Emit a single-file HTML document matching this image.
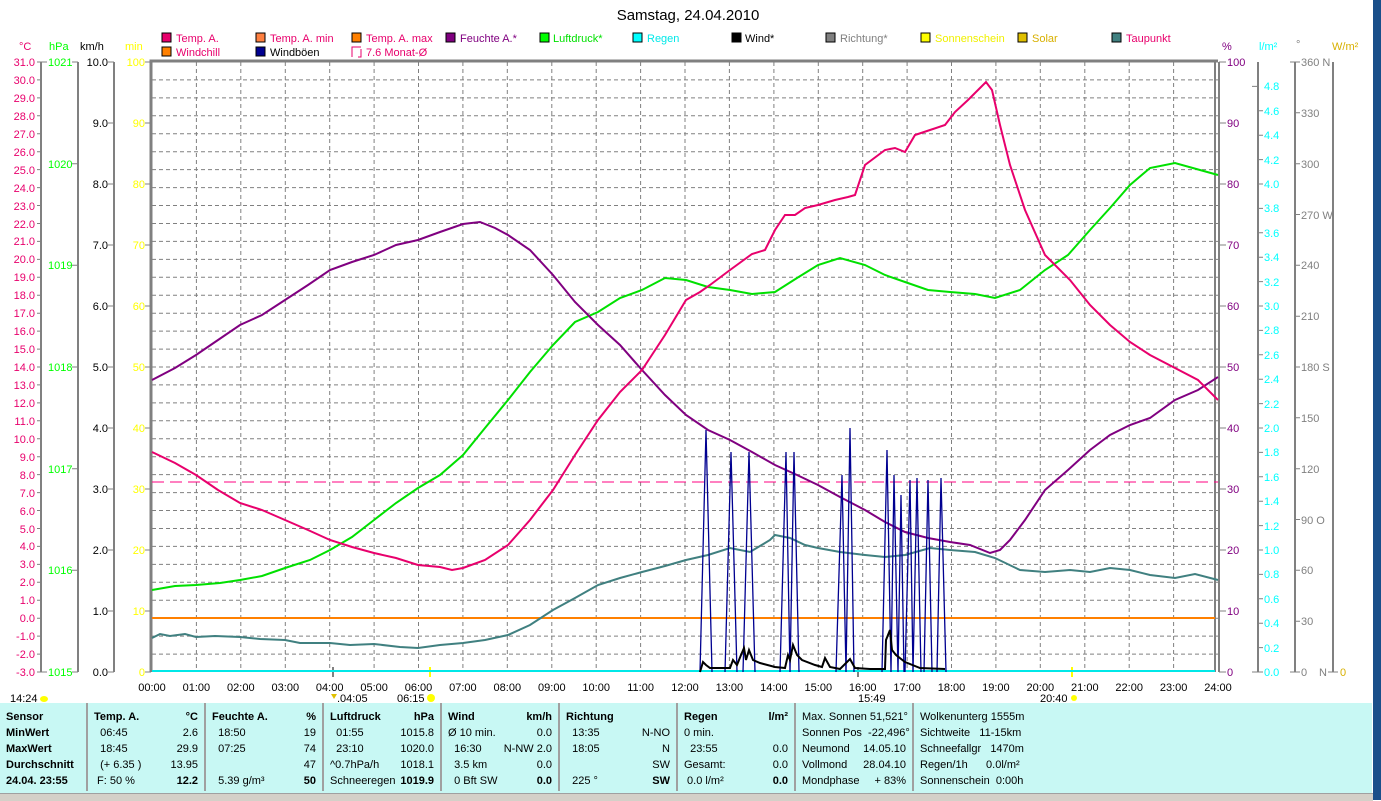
<!DOCTYPE html>
<html><head><meta charset="utf-8"><style>
html,body{margin:0;padding:0;background:#fff;width:1381px;height:800px;overflow:hidden}
svg{display:block;font-family:"Liberation Sans",sans-serif}
#tbl{position:absolute;left:0;top:703px;width:1372px;height:90px;background:#c8f8f4;font-family:"Liberation Sans",sans-serif;font-size:11px;color:#000}
.c{position:absolute;top:0;height:88px;border-right:2px solid #a0a0a0}
.r{position:absolute;left:6px;right:6px;height:16px;white-space:nowrap}
.r span{position:absolute;right:0}
b{font-weight:bold}
</style></head><body>
<svg width="1381" height="800" viewBox="0 0 1381 800">
<text x="688" y="20" font-size="15" text-anchor="middle">Samstag, 24.04.2010</text>
<!-- legend -->
<g font-size="11">
<rect x="162" y="33" width="9" height="9" fill="#e8006c" stroke="#000"/><text x="176" y="42" fill="#e8006c">Temp. A.</text>
<rect x="256" y="33" width="9" height="9" fill="#ff8040" stroke="#000"/><text x="270" y="42" fill="#e8006c">Temp. A. min</text>
<rect x="352" y="33" width="9" height="9" fill="#ff8000" stroke="#000"/><text x="366" y="42" fill="#e8006c">Temp. A. max</text>
<rect x="446" y="33" width="9" height="9" fill="#800080" stroke="#000"/><text x="460" y="42" fill="#800080">Feuchte A.*</text>
<rect x="540" y="33" width="9" height="9" fill="#00ff00" stroke="#000"/><text x="553" y="42" fill="#00e000">Luftdruck*</text>
<rect x="633" y="33" width="9" height="9" fill="#00ffff" stroke="#000"/><text x="647" y="42" fill="#00e8e8">Regen</text>
<rect x="732" y="33" width="9" height="9" fill="#000" stroke="#000"/><text x="745" y="42" fill="#000">Wind*</text>
<rect x="826" y="33" width="9" height="9" fill="#808080" stroke="#000"/><text x="840" y="42" fill="#808080">Richtung*</text>
<rect x="921" y="33" width="9" height="9" fill="#ffff00" stroke="#000"/><text x="935" y="42" fill="#f0f000">Sonnenschein</text>
<rect x="1018" y="33" width="9" height="9" fill="#e0c000" stroke="#000"/><text x="1032" y="42" fill="#d8b000">Solar</text>
<rect x="1112" y="33" width="9" height="9" fill="#408080" stroke="#000"/><text x="1126" y="42" fill="#e8006c">Taupunkt</text>
<rect x="162" y="47" width="9" height="9" fill="#ff8000" stroke="#000"/><text x="176" y="56" fill="#e8006c">Windchill</text>
<rect x="256" y="47" width="9" height="9" fill="#000090" stroke="#000"/><text x="270" y="56" fill="#000">Windböen</text>
<path d="M352 57V47h9M361 49v8h-3" fill="none" stroke="#e8006c"/><text x="366" y="56" fill="#e8006c">7.6 Monat-Ø</text>
</g>
<!-- axis headers -->
<g font-size="11">
<text x="19" y="50" fill="#e8006c">°C</text><text x="49" y="50" fill="#00ff00">hPa</text><text x="80" y="50" fill="#000">km/h</text><text x="125" y="50" fill="#ffff00">min</text>
<text x="1222" y="50" fill="#800080">%</text><text x="1259" y="50" fill="#00ffff">l/m²</text><text x="1296" y="48" fill="#808080">°</text><text x="1332" y="50" fill="#d8b000">W/m²</text>
</g>
<!-- grid -->
<g stroke="#808080" stroke-dasharray="4 3" stroke-width="1">
<path d="M152 79.9H1218M152 97.9H1218M152 115.8H1218M152 133.8H1218M152 151.7H1218M152 169.6H1218M152 187.6H1218M152 205.5H1218M152 223.5H1218M152 241.4H1218M152 259.4H1218M152 277.3H1218M152 295.2H1218M152 313.2H1218M152 331.1H1218M152 349.1H1218M152 367H1218M152 384.9H1218M152 402.9H1218M152 420.8H1218M152 438.8H1218M152 456.7H1218M152 474.6H1218M152 492.6H1218M152 510.5H1218M152 528.5H1218M152 546.4H1218M152 564.4H1218M152 582.3H1218M152 600.2H1218M152 618.2H1218M152 636.1H1218M152 654.1H1218"/>
<path d="M196.4 62V672M240.8 62V672M285.3 62V672M329.7 62V672M374.1 62V672M418.5 62V672M462.9 62V672M507.3 62V672M551.8 62V672M596.2 62V672M640.6 62V672M685 62V672M729.4 62V672M773.9 62V672M818.3 62V672M862.7 62V672M907.1 62V672M951.5 62V672M995.9 62V672M1040.3 62V672M1084.8 62V672M1129.2 62V672M1173.6 62V672"/>
</g>
<!-- frame -->
<g stroke="#808080" fill="none">
<path d="M151 672V61H1218" stroke-width="3"/>
<path d="M1215 62V672M1219 62V672" stroke-width="2"/>
<path d="M41 62V672M78 62V672M114 62V672M1258 62V672M1295 62V672M1333 62V672" stroke-width="2"/>
</g>
<!-- left ticks & labels -->
<g font-size="11" fill="#e8006c" text-anchor="end">
<text x="35" y="66">31.0</text><text x="35" y="84">30.0</text><text x="35" y="102">29.0</text><text x="35" y="120">28.0</text><text x="35" y="138">27.0</text><text x="35" y="156">26.0</text><text x="35" y="174">25.0</text><text x="35" y="192">24.0</text><text x="35" y="210">23.0</text><text x="35" y="228">22.0</text><text x="35" y="245">21.0</text><text x="35" y="263">20.0</text><text x="35" y="281">19.0</text><text x="35" y="299">18.0</text><text x="35" y="317">17.0</text><text x="35" y="335">16.0</text><text x="35" y="353">15.0</text><text x="35" y="371">14.0</text><text x="35" y="389">13.0</text><text x="35" y="407">12.0</text><text x="35" y="425">11.0</text><text x="35" y="443">10.0</text><text x="35" y="461">9.0</text><text x="35" y="479">8.0</text><text x="35" y="497">7.0</text><text x="35" y="515">6.0</text><text x="35" y="533">5.0</text><text x="35" y="550">4.0</text><text x="35" y="568">3.0</text><text x="35" y="586">2.0</text><text x="35" y="604">1.0</text><text x="35" y="622">0.0</text><text x="35" y="640">-1.0</text><text x="35" y="658">-2.0</text><text x="35" y="676">-3.0</text>
</g>
<g stroke="#808080" stroke-width="1">
<path d="M37 62h4M37 79.9h4M37 97.9h4M37 115.8h4M37 133.8h4M37 151.7h4M37 169.6h4M37 187.6h4M37 205.5h4M37 223.5h4M37 241.4h4M37 259.4h4M37 277.3h4M37 295.2h4M37 313.2h4M37 331.1h4M37 349.1h4M37 367h4M37 384.9h4M37 402.9h4M37 420.8h4M37 438.8h4M37 456.7h4M37 474.6h4M37 492.6h4M37 510.5h4M37 528.5h4M37 546.4h4M37 564.4h4M37 582.3h4M37 600.2h4M37 618.2h4M37 636.1h4M37 654.1h4M37 672h4"/>
<path d="M41 62h6M72 62h6M72 163.7h6M72 265.3h6M72 367h6M72 468.7h6M72 570.3h6M72 672h6M41 672h6"/>
<path d="M108 62h6M108 123h6M108 184h6M108 245h6M108 306h6M108 367h6M108 428h6M108 489h6M108 550h6M108 611h6M108 672h6"/>
<path d="M145 62h6M145 123h6M145 184h6M145 245h6M145 306h6M145 367h6M145 428h6M145 489h6M145 550h6M145 611h6M145 672h6"/>
<path d="M1219 62h7M1219 123h7M1219 184h7M1219 245h7M1219 306h7M1219 367h7M1219 428h7M1219 489h7M1219 550h7M1219 611h7M1219 672h7"/>
<path d="M1252 86.4h6M1258 110.8h5M1258 135.2h5M1258 159.6h5M1258 184h5M1258 208.4h5M1258 232.8h5M1258 257.2h5M1258 281.6h5M1258 306h5M1258 330.4h5M1258 354.8h5M1258 379.2h5M1258 403.6h5M1258 428h5M1258 452.4h5M1258 476.8h5M1258 501.2h5M1258 525.6h5M1258 550h5M1258 574.4h5M1258 598.8h5M1258 623.2h5M1258 647.6h5M1252 672h11"/>
<path d="M1290 62h10M1295 112.8h5M1295 163.7h5M1295 214.5h5M1295 265.3h5M1295 316.2h5M1295 367h5M1295 417.8h5M1295 468.7h5M1295 519.5h5M1295 570.3h5M1295 621.2h5M1290 672h10M1328 672h10"/>
</g>
<g font-size="11" fill="#00ff00"><text x="48" y="66">1021</text><text x="48" y="168">1020</text><text x="48" y="269">1019</text><text x="48" y="371">1018</text><text x="48" y="473">1017</text><text x="48" y="574">1016</text><text x="48" y="676">1015</text></g>
<g font-size="11" fill="#000" text-anchor="end"><text x="108" y="66">10.0</text><text x="108" y="127">9.0</text><text x="108" y="188">8.0</text><text x="108" y="249">7.0</text><text x="108" y="310">6.0</text><text x="108" y="371">5.0</text><text x="108" y="432">4.0</text><text x="108" y="493">3.0</text><text x="108" y="554">2.0</text><text x="108" y="615">1.0</text><text x="108" y="676">0.0</text></g>
<g font-size="11" fill="#ffff00" text-anchor="end"><text x="145" y="66">100</text><text x="145" y="127">90</text><text x="145" y="188">80</text><text x="145" y="249">70</text><text x="145" y="310">60</text><text x="145" y="371">50</text><text x="145" y="432">40</text><text x="145" y="493">30</text><text x="145" y="554">20</text><text x="145" y="615">10</text><text x="145" y="676">0</text></g>
<g font-size="11" fill="#800080"><text x="1227" y="66">100</text><text x="1227" y="127">90</text><text x="1227" y="188">80</text><text x="1227" y="249">70</text><text x="1227" y="310">60</text><text x="1227" y="371">50</text><text x="1227" y="432">40</text><text x="1227" y="493">30</text><text x="1227" y="554">20</text><text x="1227" y="615">10</text><text x="1227" y="676">0</text></g>
<g font-size="11" fill="#00ffff"><text x="1264" y="90">4.8</text><text x="1264" y="115">4.6</text><text x="1264" y="139">4.4</text><text x="1264" y="164">4.2</text><text x="1264" y="188">4.0</text><text x="1264" y="212">3.8</text><text x="1264" y="237">3.6</text><text x="1264" y="261">3.4</text><text x="1264" y="286">3.2</text><text x="1264" y="310">3.0</text><text x="1264" y="334">2.8</text><text x="1264" y="359">2.6</text><text x="1264" y="383">2.4</text><text x="1264" y="408">2.2</text><text x="1264" y="432">2.0</text><text x="1264" y="456">1.8</text><text x="1264" y="481">1.6</text><text x="1264" y="505">1.4</text><text x="1264" y="530">1.2</text><text x="1264" y="554">1.0</text><text x="1264" y="578">0.8</text><text x="1264" y="603">0.6</text><text x="1264" y="627">0.4</text><text x="1264" y="652">0.2</text><text x="1264" y="676">0.0</text></g>
<g font-size="11" fill="#808080"><text x="1301" y="66">360 N</text><text x="1301" y="117">330</text><text x="1301" y="168">300</text><text x="1301" y="219">270 W</text><text x="1301" y="269">240</text><text x="1301" y="320">210</text><text x="1301" y="371">180 S</text><text x="1301" y="422">150</text><text x="1301" y="473">120</text><text x="1301" y="524">90 O</text><text x="1301" y="574">60</text><text x="1301" y="625">30</text><text x="1301" y="676">0</text><text x="1319" y="676">N</text></g>
<text x="1340" y="676" font-size="11" fill="#d8b000">0</text>
<!-- time labels -->
<g font-size="11" fill="#000" text-anchor="middle">
<text x="152" y="691">00:00</text><text x="196.4" y="691">01:00</text><text x="240.8" y="691">02:00</text><text x="285.3" y="691">03:00</text><text x="329.7" y="691">04:00</text><text x="374.1" y="691">05:00</text><text x="418.5" y="691">06:00</text><text x="462.9" y="691">07:00</text><text x="507.3" y="691">08:00</text><text x="551.8" y="691">09:00</text><text x="596.2" y="691">10:00</text><text x="640.6" y="691">11:00</text><text x="685" y="691">12:00</text><text x="729.4" y="691">13:00</text><text x="773.9" y="691">14:00</text><text x="818.3" y="691">15:00</text><text x="862.7" y="691">16:00</text><text x="907.1" y="691">17:00</text><text x="951.5" y="691">18:00</text><text x="995.9" y="691">19:00</text><text x="1040.3" y="691">20:00</text><text x="1084.8" y="691">21:00</text><text x="1129.2" y="691">22:00</text><text x="1173.6" y="691">23:00</text><text x="1218" y="691">24:00</text>
</g>
<g font-size="11" fill="#000">
<text x="10" y="702">14:24</text><ellipse cx="44" cy="699" rx="4" ry="3" fill="#ffff00"/>
<text x="337" y="702">.04:05</text><path d="M331 694l3 5 3-5z" fill="#e0c000"/>
<text x="397" y="702">06:15</text><circle cx="431" cy="698" r="4" fill="#ffff00"/>
<text x="858" y="702">15:49</text><text x="1040" y="702">20:40</text><circle cx="1074" cy="698" r="3" fill="#ffff00"/>
</g>
<path d="M333 667v10M858 667v10" stroke="#808080" stroke-width="2"/>
<path d="M430 667v10M1072 667v10" stroke="#ffff00" stroke-width="2"/>
<!-- series -->
<path d="M152 482H1218" stroke="#ff0080" stroke-dasharray="12 6" stroke-width="1"/>
<path d="M152 618H1215" stroke="#ff8000" stroke-width="2"/>
<path d="M152 671H1215" stroke="#00e8e8" stroke-width="2"/>
<polyline fill="none" stroke="#408080" stroke-width="2" points="152,638 160,634 170,636 185,634 196,637 215,636 240,637 260,639 285,640 300,643 330,643 350,645 374,644 400,647 418,648 440,645 463,643 485,640 508,635 530,625 553,610 575,598 598,585 620,578 642,572 665,566 686,560 708,555 730,548 750,552 770,540 775,535 790,538 805,545 818,548 840,552 865,555 885,557 905,555 930,548 950,550 975,552 995,558 1020,570 1045,572 1070,570 1090,572 1110,568 1130,570 1150,575 1175,578 1195,574 1218,580"/>
<polyline fill="none" stroke="#00e000" stroke-width="2" points="152,590 175,586 196,585 220,583 240,580 262,576 285,568 310,560 330,550 352,537 374,520 396,503 418,488 440,475 463,455 485,428 508,400 530,372 553,345 575,322 598,312 620,298 642,290 665,278 686,280 708,287 730,290 752,294 775,292 797,278 818,265 840,258 865,265 885,275 905,282 928,290 950,292 975,294 995,298 1020,290 1045,270 1068,255 1090,230 1110,208 1130,185 1150,168 1175,163 1200,170 1218,175"/>
<polyline fill="none" stroke="#800080" stroke-width="2" points="152,380 175,368 196,355 218,340 240,325 262,315 285,300 308,285 330,270 352,262 374,255 396,245 418,240 440,232 463,224 480,222 495,228 508,235 530,250 553,275 575,302 598,325 620,345 642,370 665,395 686,415 708,430 730,440 752,452 775,465 797,475 818,485 840,497 865,510 885,522 905,532 928,538 950,542 970,545 990,553 1000,550 1010,540 1025,520 1045,490 1068,470 1090,450 1110,435 1130,425 1150,418 1175,400 1198,390 1218,377"/>
<polyline fill="none" stroke="#e8006c" stroke-width="2" points="152,452 175,463 196,475 218,490 240,503 262,510 285,520 308,530 330,540 352,547 374,553 396,558 418,565 440,567 452,570 463,568 485,560 508,545 530,520 553,490 575,455 598,420 620,392 642,370 665,335 686,300 700,292 710,285 730,270 752,254 765,250 775,230 785,215 795,215 805,208 818,205 835,200 848,197 855,195 865,165 885,150 895,148 905,152 915,135 930,130 945,125 955,112 968,100 980,88 986,82 992,90 1000,125 1010,165 1025,210 1045,255 1070,280 1090,305 1110,325 1130,342 1150,355 1175,368 1198,380 1218,400"/>
<g stroke="#000090" stroke-width="1.3" fill="none">
<path d="M700 672L706 430L712 672M725 672L731 452L737 672M743 672L749 452L755 672M780 672L786 452L790 672M790 672L794 452L799 672M836 672L842 475L846 672M846 672L850 428L854 672M882 672L887 450L891 672M891 672L894 475L898 672M898 672L901 495L904 672M905 672L910 480L913 672M913 672L917 478L921 672M924 672L928 480L932 672M937 672L941 478L946 672"/>
</g>
<polyline fill="none" stroke="#000" stroke-width="2" points="700,672 703,662 706,665 710,668 720,668 730,668 733,660 737,665 741,655 744,648 746,660 749,650 753,660 760,663 775,667 785,668 788,655 790,660 793,645 797,655 802,660 815,665 822,667 825,658 830,667 840,669 850,659 855,668 870,669 885,669 886,640 890,630 892,650 896,655 905,662 920,668 945,669"/>
</svg>
<div id="tbl">
<div class="c" style="left:0;width:86px"><div class="r" style="top:8px"><b>Sensor</b></div><div class="r" style="top:24px"><b>MinWert</b></div><div class="r" style="top:40px"><b>MaxWert</b></div><div class="r" style="top:56px"><b>Durchschnitt</b></div><div class="r" style="top:72px"><b>24.04. 23:55</b></div></div>
<div class="c" style="left:88px;width:116px"><div class="r" style="top:8px"><b>Temp. A.</b><span><b>°C</b></span></div><div class="r" style="top:24px">&nbsp;&nbsp;06:45<span>2.6</span></div><div class="r" style="top:40px">&nbsp;&nbsp;18:45<span>29.9</span></div><div class="r" style="top:56px">&nbsp;&nbsp;(+ 6.35 )<span>13.95</span></div><div class="r" style="top:72px">&nbsp;F: 50 %<span><b>12.2</b></span></div></div>
<div class="c" style="left:206px;width:116px"><div class="r" style="top:8px"><b>Feuchte A.</b><span><b>%</b></span></div><div class="r" style="top:24px">&nbsp;&nbsp;18:50<span>19</span></div><div class="r" style="top:40px">&nbsp;&nbsp;07:25<span>74</span></div><div class="r" style="top:56px"><span>47</span></div><div class="r" style="top:72px">&nbsp;&nbsp;5.39 g/m³<span><b>50</b></span></div></div>
<div class="c" style="left:324px;width:116px"><div class="r" style="top:8px"><b>Luftdruck</b><span><b>hPa</b></span></div><div class="r" style="top:24px">&nbsp;&nbsp;01:55<span>1015.8</span></div><div class="r" style="top:40px">&nbsp;&nbsp;23:10<span>1020.0</span></div><div class="r" style="top:56px">^0.7hPa/h<span>1018.1</span></div><div class="r" style="top:72px">Schneeregen<span><b>1019.9</b></span></div></div>
<div class="c" style="left:442px;width:116px"><div class="r" style="top:8px"><b>Wind</b><span><b>km/h</b></span></div><div class="r" style="top:24px">Ø 10 min.<span>0.0</span></div><div class="r" style="top:40px">&nbsp;&nbsp;16:30<span>N-NW 2.0</span></div><div class="r" style="top:56px">&nbsp;&nbsp;3.5 km<span>0.0</span></div><div class="r" style="top:72px">&nbsp;&nbsp;0 Bft SW<span><b>0.0</b></span></div></div>
<div class="c" style="left:560px;width:116px"><div class="r" style="top:8px"><b>Richtung</b></div><div class="r" style="top:24px">&nbsp;&nbsp;13:35<span>N-NO</span></div><div class="r" style="top:40px">&nbsp;&nbsp;18:05<span>N</span></div><div class="r" style="top:56px"><span>SW</span></div><div class="r" style="top:72px">&nbsp;&nbsp;225 °<span><b>SW</b></span></div></div>
<div class="c" style="left:678px;width:116px"><div class="r" style="top:8px"><b>Regen</b><span><b>l/m²</b></span></div><div class="r" style="top:24px">0 min.</div><div class="r" style="top:40px">&nbsp;&nbsp;23:55<span>0.0</span></div><div class="r" style="top:56px">Gesamt:<span>0.0</span></div><div class="r" style="top:72px">&nbsp;0.0 l/m²<span><b>0.0</b></span></div></div>
<div class="c" style="left:796px;width:116px"><div class="r" style="top:8px">Max. Sonnen 51,521°</div><div class="r" style="top:24px">Sonnen Pos &nbsp;-22,496°</div><div class="r" style="top:40px">Neumond<span>14.05.10</span></div><div class="r" style="top:56px">Vollmond<span>28.04.10</span></div><div class="r" style="top:72px">Mondphase<span>+ 83%</span></div></div>
<div style="position:absolute;left:914px;top:0;width:200px"><div class="r" style="top:8px">Wolkenunterg 1555m</div><div class="r" style="top:24px">Sichtweite &nbsp;&nbsp;11-15km</div><div class="r" style="top:40px">Schneefallgr &nbsp;&nbsp;1470m</div><div class="r" style="top:56px">Regen/1h &nbsp;&nbsp;&nbsp;&nbsp;&nbsp;0.0l/m²</div><div class="r" style="top:72px">Sonnenschein &nbsp;0:00h</div></div>
</div>
<div style="position:absolute;left:0;top:793px;width:1373px;height:7px;background:#d4d0c8;border-top:1px solid #a0a0a0"></div>
<div style="position:absolute;left:1373px;top:0;width:8px;height:800px;background:#1a4f8a"></div>
</body></html>
